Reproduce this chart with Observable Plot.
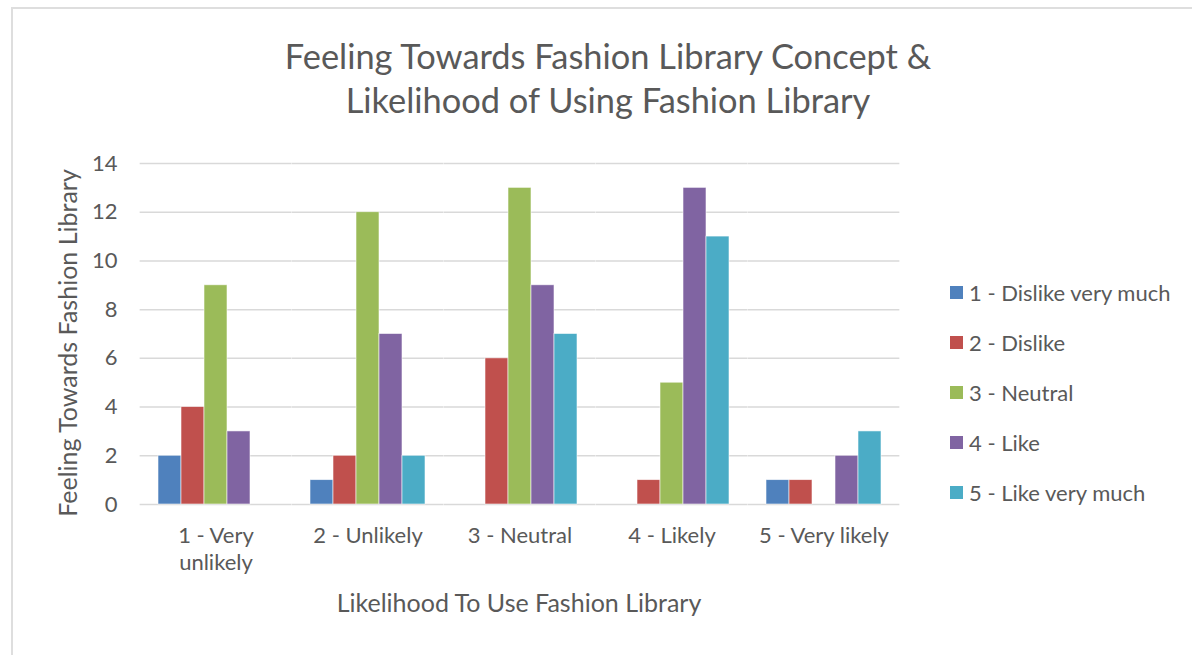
<!DOCTYPE html>
<html>
<head>
<meta charset="utf-8">
<script src="https://cdn.jsdelivr.net/npm/d3@7"></script>
<script src="https://cdn.jsdelivr.net/npm/@observablehq/plot@0.6"></script>
<style>
  html, body { margin: 0; padding: 0; overflow: hidden; background: #fff; }
  #page { position: relative; width: 1192px; height: 655px; font-family: Lato, "Open Sans", sans-serif; color: #595959; }
  #frame { position: absolute; left: 11px; top: 7px; width: 1400px; height: 900px; border: 2px solid #dedede; box-sizing: border-box; }
  #chart { position: absolute; left: 0; top: 0; }
  #title { position: absolute; left: 208px; top: 34px; width: 800px; text-align: center; font-size: 34.4px; line-height: 44px; }
  #xtitle { position: absolute; left: 219px; top: 587px; width: 600px; text-align: center; font-size: 25px; line-height: 30px; white-space: nowrap; }
  #ytitle { position: absolute; left: 67px; top: 343px; transform: translate(-50%, -50%) rotate(-90deg); font-size: 25px; line-height: 30px; white-space: nowrap; }
  #legend { position: absolute; left: 950px; top: 267px; }
  .row { display: flex; align-items: center; height: 50px; font-size: 22px; white-space: nowrap; }
  .swatch { width: 13px; height: 13px; margin-right: 6px; flex: none; }
</style>
</head>
<body>
<div id="page">
  <div id="frame"></div>
  <div id="chart"></div>
  <div id="title">Feeling Towards Fashion Library Concept &amp;<br>Likelihood of Using Fashion Library</div>
  <div id="ytitle">Feeling Towards Fashion Library</div>
  <div id="xtitle">Likelihood To Use Fashion Library</div>
  <div id="legend"></div>
</div>
<script>
// Likelihood groups along the x axis, with their wrapped tick labels
const likelihood = ["1 - Very unlikely", "2 - Unlikely", "3 - Neutral", "4 - Likely", "5 - Very likely"];
const likelihoodLabels = ["1 - Very\nunlikely", "2 - Unlikely", "3 - Neutral", "4 - Likely", "5 - Very likely"];

// Feeling series (one bar per series in each group)
const feelings = ["1 - Dislike very much", "2 - Dislike", "3 - Neutral", "4 - Like", "5 - Like very much"];
const feelingColors = ["#4f81bd", "#c0504d", "#9bbb59", "#8064a2", "#4bacc6"];

// Counts per likelihood group, one array per feeling
const dislikeVeryMuch = [2, 1, 0, 0, 1];
const dislike = [4, 2, 6, 1, 1];
const neutral = [9, 12, 13, 5, 0];
const like = [3, 7, 9, 13, 2];
const likeVeryMuch = [0, 2, 7, 11, 3];

const yTicks = [0, 2, 4, 6, 8, 10, 12, 14];

const series = [dislikeVeryMuch, dislike, neutral, like, likeVeryMuch];
const rows = likelihood.flatMap((group, i) =>
  feelings.map((feeling, j) => ({ group, feeling, count: series[j][i] }))
).filter(d => d.count > 0);

// Group spacing: bars fill each group band, with a gap between groups
const groupPadInner = 0.228;
const groupPadOuter = groupPadInner / 2;
const plotLeft = 139, plotRight = 900, chartWidth = 1192;
const groupStep = (plotRight - plotLeft) / likelihood.length;
const gridExtend = -groupStep * groupPadInner / 2; // grid lines reach across the gaps between groups

const chart = Plot.plot({
  width: chartWidth,
  height: 655,
  marginLeft: plotLeft,
  marginRight: chartWidth - plotRight,
  marginTop: 163,
  marginBottom: 151,
  style: { fontFamily: "Lato, 'Open Sans', sans-serif", fontSize: "22px", color: "#595959", background: "transparent", overflow: "visible" },
  fx: { domain: likelihood, paddingInner: groupPadInner, paddingOuter: groupPadOuter },
  x: { domain: feelings, paddingInner: 0, paddingOuter: 0, axis: null },
  y: { domain: [0, 14], axis: null },
  color: { domain: feelings, range: feelingColors },
  marks: [
    Plot.ruleY(yTicks, { stroke: "#d9d9d9", strokeWidth: 1.5, insetLeft: gridExtend, insetRight: gridExtend }),
    Plot.barY(rows, { fx: "group", x: "feeling", y: "count", fill: "feeling", stroke: "#ffffff", strokeWidth: 0.8, strokeOpacity: 0.7 }),
    Plot.axisY(yTicks, { anchor: "left", tickSize: 0, tickPadding: 40, label: null, fill: "#595959" }),
    Plot.axisFx({ anchor: "bottom", tickSize: 0, tickPadding: 20, lineHeight: 1.2, label: null, fill: "#595959",
      tickFormat: d => likelihoodLabels[likelihood.indexOf(d)] })
  ]
});
document.getElementById("chart").append(chart);

// Legend: one swatch and label per feeling series
const legend = document.getElementById("legend");
feelings.forEach((name, i) => {
  const row = document.createElement("div");
  row.className = "row";
  const sw = document.createElement("span");
  sw.className = "swatch";
  sw.style.background = feelingColors[i];
  const label = document.createElement("span");
  label.textContent = name;
  row.append(sw, label);
  legend.append(row);
});
</script>
</body>
</html>
